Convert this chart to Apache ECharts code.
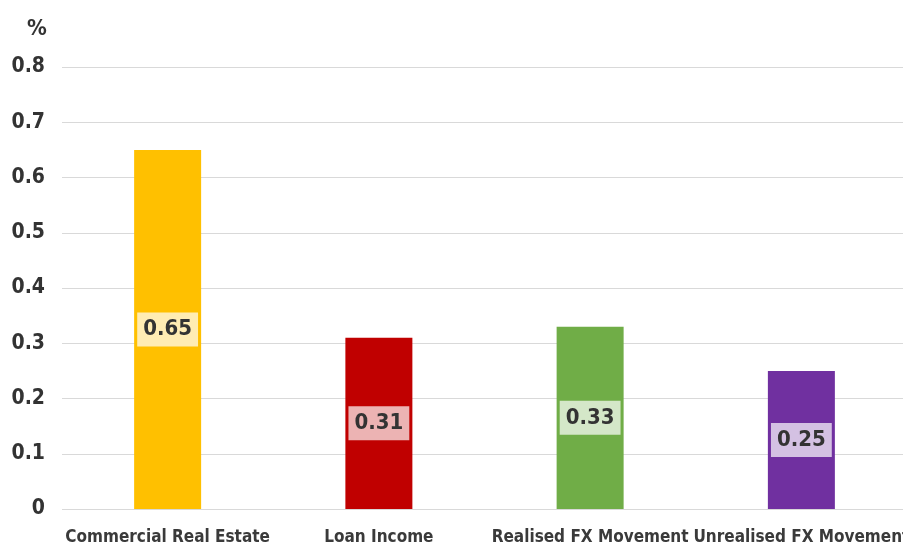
<!DOCTYPE html>
<html>
<head>
<meta charset="utf-8">
<script src="https://cdn.jsdelivr.net/npm/echarts@6/dist/echarts.min.js"></script>
<style>
  html, body { margin: 0; padding: 0; background: #fff; }
  #chart { width: 903px; height: 545px; }
</style>
</head>
<body>
<div id="chart"></div>
<script>
const categories = ['Commercial Real Estate', 'Loan Income', 'Realised FX Movement', 'Unrealised FX Movement']
const values = [0.65, 0.31, 0.33, 0.25]
const barColors = ['#FFC000', '#C00000', '#70AD47', '#7030A0']
const yTicks = [0, 0.1, 0.2, 0.3, 0.4, 0.5, 0.6, 0.7, 0.8]

const font = "'DejaVu Sans Condensed', 'Liberation Sans Narrow', 'Roboto', sans-serif"

const chart = echarts.init(document.getElementById('chart'))
const option = {
  animation: false,
  textStyle: { fontFamily: font },
  title: {
    text: '%',
    left: 22,
    top: 13,
    textStyle: { fontSize: 22, fontWeight: 'bold', color: '#333', fontFamily: font }
  },
  grid: {
    left: 62,
    right: -4,
    top: 67,
    bottom: 36,
    containLabel: false,
    outerBoundsMode: 'none'
  },
  xAxis: {
    type: 'category',
    data: categories,
    axisLine: { show: false },
    axisTick: { show: false },
    axisLabel: {
      color: '#3a3a3a',
      fontSize: 17,
      fontWeight: 'bold',
      fontFamily: font,
      margin: 20,
      interval: 0,
      hideOverlap: false
    }
  },
  yAxis: {
    type: 'value',
    min: yTicks[0],
    max: yTicks[yTicks.length - 1],
    interval: 0.1,
    axisLine: { show: false },
    axisTick: { show: false },
    splitLine: { lineStyle: { color: '#d9d9d9', width: 1 } },
    axisLabel: {
      color: '#333',
      fontSize: 21,
      fontWeight: 'bold',
      fontFamily: font,
      margin: 17,
      formatter: v => (v === 0 ? '0' : v.toFixed(1))
    }
  },
  series: [{
    type: 'bar',
    barWidth: 67,
    data: values.map((v, i) => ({ value: v, itemStyle: { color: barColors[i] } })),
    label: {
      show: true,
      position: 'inside',
      color: '#333',
      fontSize: 22,
      fontWeight: 'bold',
      fontFamily: font,
      backgroundColor: 'rgba(255,255,255,0.7)',
      padding: [7, 6, 5, 6],
      formatter: p => p.value.toFixed(2)
    }
  }]
}
chart.setOption(option)
window.addEventListener('resize', function () {
  chart.resize()
})
</script>
</body>
</html>
